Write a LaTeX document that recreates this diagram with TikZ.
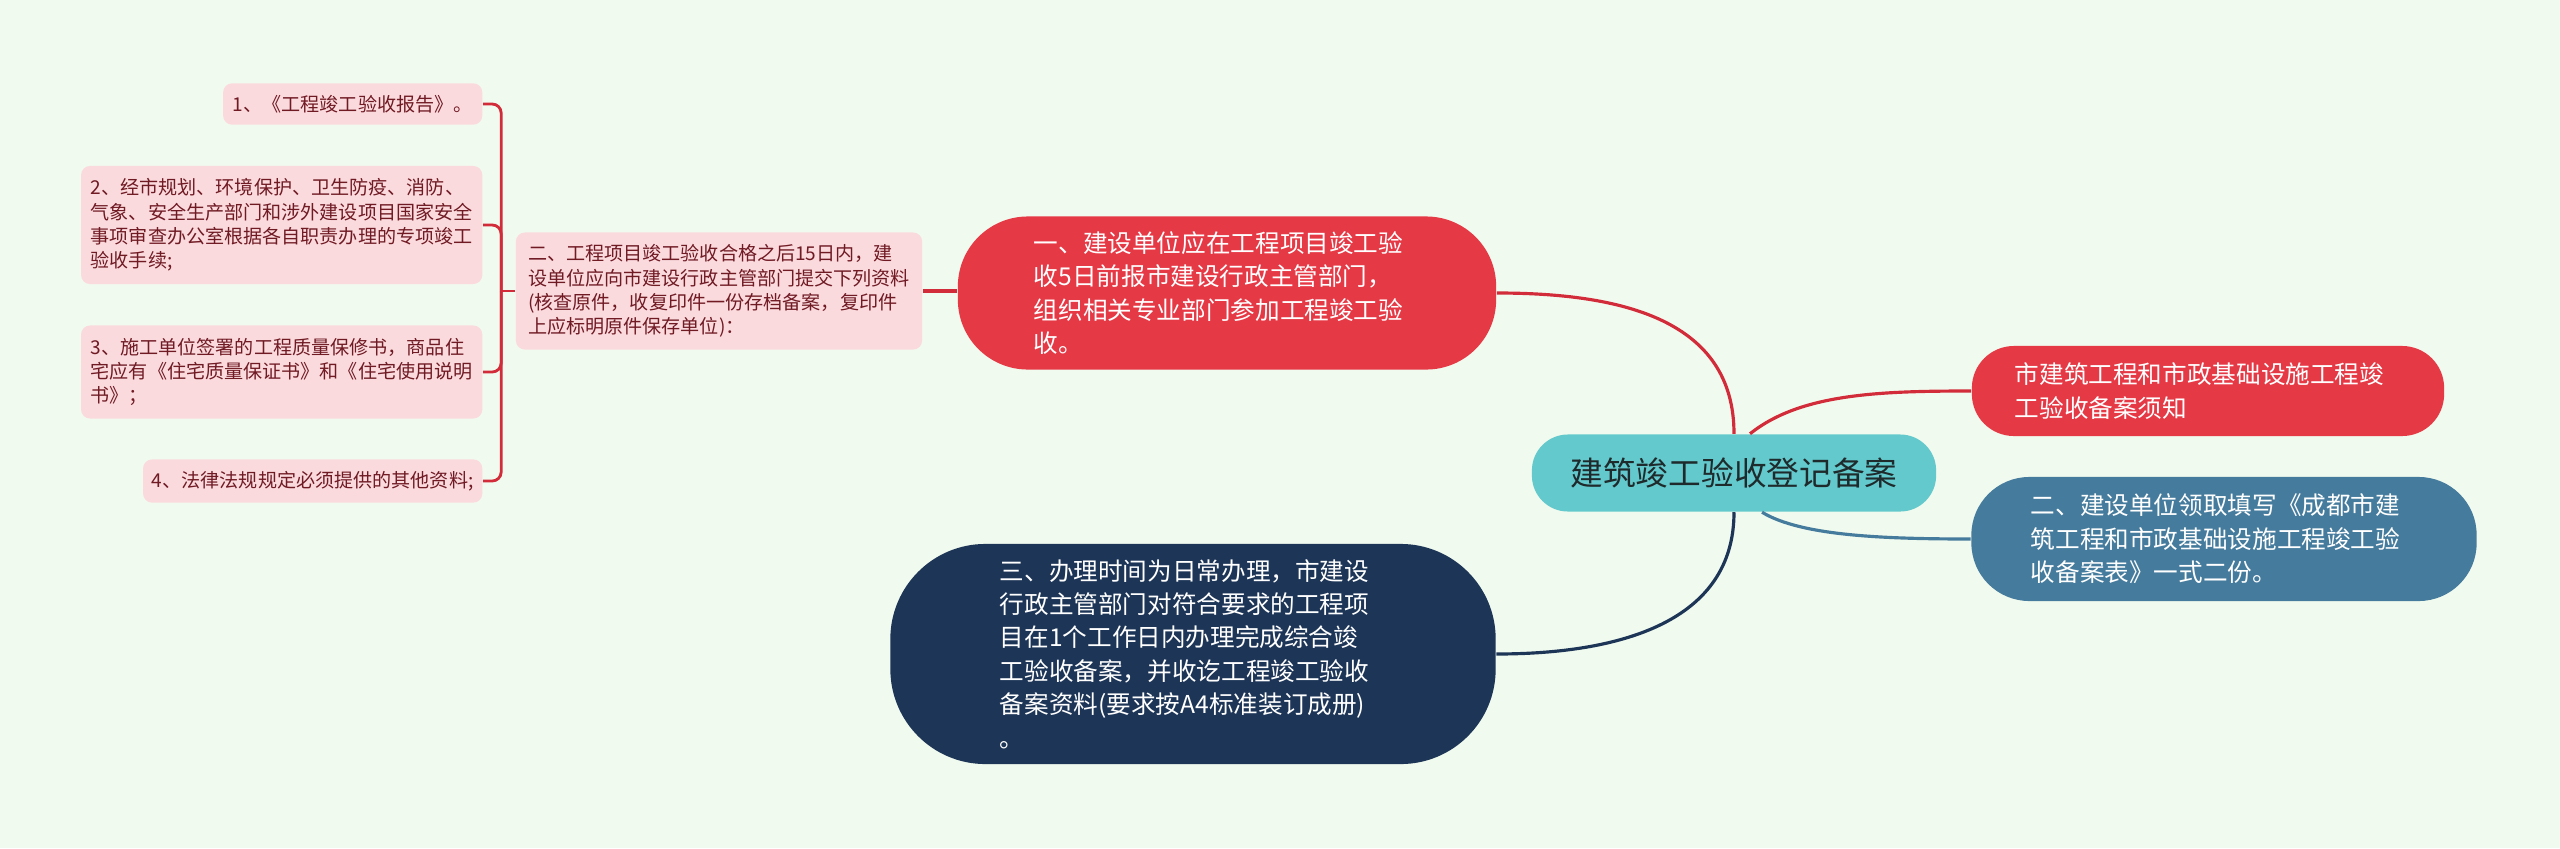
\documentclass[tikz,border=0pt]{standalone}
\usepackage{fontspec}
\setmainfont{Noto Sans CJK SC}
\usetikzlibrary{calc}

\definecolor{bgc}{RGB}{241,250,238}
\definecolor{redc}{RGB}{230,57,70}
\definecolor{redl}{RGB}{210,44,58}
\definecolor{bluec}{RGB}{69,123,157}
\definecolor{navyc}{RGB}{29,53,87}
\definecolor{tealc}{RGB}{99,201,204}
\definecolor{pinkc}{RGB}{250,218,221}
\definecolor{pinkt}{RGB}{112,26,36}
\definecolor{roott}{RGB}{30,42,44}

\tikzset{
	topic/.style={align=left, text width=3.86cm, text=white, inner sep=0pt, font=\fontsize{7pt}{9.5pt}\selectfont},
	leaf/.style={fill=pinkc, text=pinkt, align=left, anchor=east, inner xsep=0.05cm, rounded corners=0.09cm, font=\fontsize{5.43pt}{6.94pt}\selectfont},
	bracket/.style={draw=redl, line width=0.8pt, rounded corners=0.09cm},
	link/.style={line width=0.9pt}
}

\begin{document}
\begin{tikzpicture}[x=0.01cm,y=-0.01cm]
	\fill[bgc] (0,0) rectangle (2560,848); %background
	\useasboundingbox (0,0) rectangle (2560,848);
	% root
	\node[fill=tealc, rounded corners=0.36cm, minimum width=4.04cm, minimum height=0.77cm, text=roott, font=\fontsize{9.3pt}{11pt}\selectfont] (root) at (1734,473) {建筑竣工验收登记备案};
	% main topics
	\node[topic, fill=redc, rounded corners=0.7cm, minimum width=5.38cm, minimum height=1.53cm] (one) at (1227,293) {一、建设单位应在工程项目竣工验\\收5日前报市建设行政主管部门，\\组织相关专业部门参加工程竣工验\\收。};
	\node[topic, fill=redc, rounded corners=0.42cm, minimum width=4.72cm, minimum height=0.9cm] (notice) at (2208,391) {市建筑工程和市政基础设施工程竣\\工验收备案须知};
	\node[topic, fill=bluec, rounded corners=0.58cm, minimum width=5.05cm, minimum height=1.24cm] (two) at (2224,539) {二、建设单位领取填写《成都市建\\筑工程和市政基础设施工程竣工验\\收备案表》一式二份。};
	\node[topic, fill=navyc, rounded corners=0.95cm, minimum width=6.05cm, minimum height=2.2cm] (three) at (1193,654) {三、办理时间为日常办理，市建设\\行政主管部门对符合要求的工程项\\目在1个工作日内办理完成综合竣\\工验收备案，并收讫工程竣工验收\\备案资料(要求按A4标准装订成册)\\。};
	% documents
	\node[leaf, anchor=center, minimum width=4.06cm, minimum height=1.17cm] (docs) at (719,291) {二、工程项目竣工验收合格之后15日内，建\\设单位应向市建设行政主管部门提交下列资料\\(核查原件，收复印件一份存档备案，复印件\\上应标明原件保存单位)：};
	\node[leaf, minimum width=2.59cm, minimum height=0.41cm] (d1) at (483,104) {1、《工程竣工验收报告》。};
	\node[leaf, minimum width=4.01cm, minimum height=1.18cm] (d2) at (483,225) {2、经市规划、环境保护、卫生防疫、消防、\\气象、安全生产部门和涉外建设项目国家安全\\事项审查办公室根据各自职责办理的专项竣工\\验收手续;};
	\node[leaf, minimum width=4.01cm, minimum height=0.93cm] (d3) at (483,372) {3、施工单位签署的工程质量保修书，商品住\\宅应有《住宅质量保证书》和《住宅使用说明\\书》；};
	\node[leaf, minimum width=3.39cm, minimum height=0.42cm] (d4) at (483,481) {4、法律法规规定必须提供的其他资料;};
	% bracket
	\coordinate (jn) at ($(docs.west)+(-14,0)$);
	\draw[bracket] (docs.west) -- (jn);
	\foreach \n in {d1,d2,d3,d4}
		\draw[bracket] (jn) |- (\n.east);
	\draw[link, redl] (docs.east) -- (docs.east -| one.west);
	% links from root
	\draw[link, redl] (root.north) .. controls +(0,-114) and +(125,0) .. (one.east);
	\draw[link, redl] ([xshift=0.16cm]root.north) .. controls +(50,-40) and +(-93,0) .. (notice.west);
	\draw[link, bluec] ([xshift=0.28cm]root.south) .. controls +(38,23) and +(-92,0) .. (two.west);
	\draw[link, navyc] (root.south) .. controls +(0,109) and +(125,0) .. (three.east);
\end{tikzpicture}
\end{document}
